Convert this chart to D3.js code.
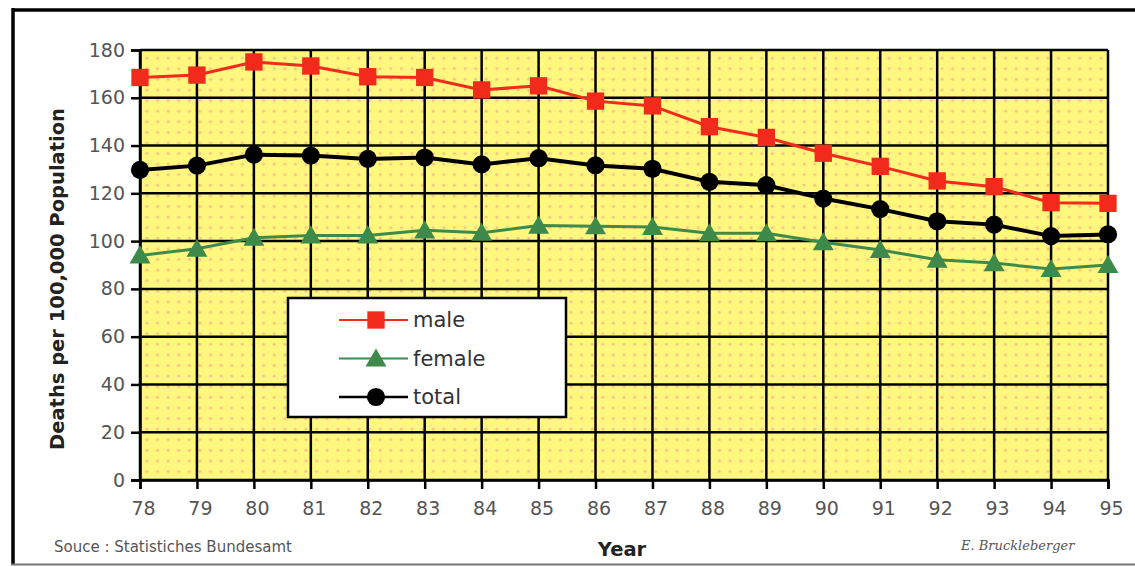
<!DOCTYPE html>
<html>
<head>
<meta charset="utf-8">
<script src="https://cdn.jsdelivr.net/npm/d3@7"></script>
<style>
  body { margin: 0; background: #fff; }
  svg { display: block; }
</style>
</head>
<body>
<svg id="chart" width="1135" height="567"></svg>
<script>
// data
var years = ["78", "79", "80", "81", "82", "83", "84", "85", "86", "87", "88", "89", "90", "91", "92", "93", "94", "95"];
var male = [168.5, 169.5, 175, 173.3, 168.8, 168.5, 163.3, 165, 158.6, 156.6, 147.9, 143.4, 136.8, 131.3, 125.2, 122.8, 116.1, 115.8];
var female = [94, 96.8, 101.4, 102.4, 102.4, 104.5, 103.5, 106.5, 106.2, 105.9, 103.3, 103.3, 99.5, 96.3, 92.2, 90.8, 88.3, 90];
var total = [129.8, 131.6, 136.2, 135.8, 134.4, 135, 132.1, 134.7, 131.7, 130.3, 124.8, 123.4, 117.8, 113.4, 108.3, 106.9, 102.1, 102.8];
var yTicks = [0, 20, 40, 60, 80, 100, 120, 140, 160, 180];

var series = [
  { name: "male", values: male, color: "#f22a1c", width: 3, marker: "square" },
  { name: "female", values: female, color: "#3d8a4a", width: 3, marker: "triangle" },
  { name: "total", values: total, color: "#000", width: 4, marker: "circle" }
];

var svg = d3.select("#chart");
// plot box (window.top is read-only, so no plain "top")
var plotLeft = 140, plotRight = 1108, plotTop = 50, plotBottom = 480;

var x = d3.scalePoint().domain(years).range([plotLeft, plotRight]);
var y = d3.scaleLinear().domain([0, 180]).range([plotBottom, plotTop]);

// outer frame
svg.append("line").attr("x1", 13).attr("x2", 1135).attr("y1", 10).attr("y2", 10)
   .attr("stroke", "#000").attr("stroke-width", 3.5);
svg.append("line").attr("x1", 13).attr("x2", 13).attr("y1", 8).attr("y2", 565)
   .attr("stroke", "#000").attr("stroke-width", 3.5);
svg.append("line").attr("x1", 11).attr("x2", 1135).attr("y1", 564.5).attr("y2", 564.5)
   .attr("stroke", "#777").attr("stroke-width", 2);

// dotted yellow background
var defs = svg.append("defs");
var pat = defs.append("pattern").attr("id", "dots")
  .attr("patternUnits", "userSpaceOnUse")
  .attr("x", plotLeft + 2).attr("y", plotTop + 3)
  .attr("width", 10.6).attr("height", 10.6);
pat.append("rect").attr("width", 10.6).attr("height", 10.6).attr("fill", "#fff77e");
pat.append("circle").attr("cx", 5).attr("cy", 5).attr("r", 1.5).attr("fill", "#f7c487");

svg.append("rect")
  .attr("x", plotLeft).attr("y", plotTop)
  .attr("width", plotRight - plotLeft).attr("height", plotBottom - plotTop)
  .attr("fill", "url(#dots)");

// grid lines
svg.append("g").selectAll("line").data(yTicks).join("line")
  .attr("x1", plotLeft).attr("x2", plotRight)
  .attr("y1", function(d){ return y(d); }).attr("y2", function(d){ return y(d); })
  .attr("stroke", "#000").attr("stroke-width", 2.5);
svg.append("g").selectAll("line").data(years).join("line")
  .attr("x1", function(d){ return x(d); }).attr("x2", function(d){ return x(d); })
  .attr("y1", plotTop).attr("y2", plotBottom)
  .attr("stroke", "#000").attr("stroke-width", 2.5);

// axes
var yAxis = svg.append("g")
  .attr("transform", "translate(" + plotLeft + ",0)")
  .call(d3.axisLeft(y).tickValues(yTicks).tickSize(9).tickPadding(6));
var xAxis = svg.append("g")
  .attr("transform", "translate(0," + plotBottom + ")")
  .call(d3.axisBottom(x).tickSize(9).tickPadding(13));

[yAxis, xAxis].forEach(function(a){
  a.select(".domain").attr("stroke", "#000").attr("stroke-width", 2.5);
  a.selectAll(".tick line").attr("stroke", "#000").attr("stroke-width", 2.5);
  a.selectAll(".tick text")
    .attr("fill", "#555")
    .style("font-family", "DejaVu Sans")
    .style("font-size", "19px");
});
xAxis.selectAll(".tick text").attr("dx", 3);

// series
var line = d3.line()
  .x(function(d, i){ return x(years[i]); })
  .y(function(d){ return y(d); });

function markerPath(kind, size) {
  var t = kind === "square" ? d3.symbolSquare : kind === "triangle" ? d3.symbolTriangle : d3.symbolCircle;
  return d3.symbol().type(t).size(size)();
}
var markerSize = { square: 300, triangle: 190, circle: 260 };

series.forEach(function(s){
  var g = svg.append("g");
  g.append("path")
    .datum(s.values)
    .attr("d", line)
    .attr("fill", "none")
    .attr("stroke", s.color)
    .attr("stroke-width", s.width);
  g.selectAll("path.mk").data(s.values).join("path")
    .attr("class", "mk")
    .attr("d", markerPath(s.marker, markerSize[s.marker]))
    .attr("transform", function(d, i){
      var dy = s.marker === "triangle" ? 2 : 0;
      return "translate(" + x(years[i]) + "," + (y(d) + dy) + ")";
    })
    .attr("fill", s.color);
});

// legend
var legend = svg.append("g");
legend.append("rect")
  .attr("x", 288).attr("y", 298).attr("width", 278).attr("height", 119)
  .attr("fill", "#fff").attr("stroke", "#000").attr("stroke-width", 2.5);
var rows = legend.selectAll("g.row").data(series).join("g")
  .attr("class", "row")
  .attr("transform", function(d, i){ return "translate(0," + (320 + i * 38.5) + ")"; });
rows.append("line")
  .attr("x1", 339).attr("x2", 408).attr("y1", 0).attr("y2", 0)
  .attr("stroke", function(d){ return d.color; })
  .attr("stroke-width", function(d){ return d.marker === "circle" ? 2.5 : 2; });
rows.append("path")
  .attr("d", function(d){ return markerPath(d.marker, markerSize[d.marker]); })
  .attr("transform", function(d){ return "translate(376," + (d.marker === "triangle" ? 2 : 0) + ")"; })
  .attr("fill", function(d){ return d.color; });
rows.append("text")
  .attr("x", 413).attr("y", 7)
  .attr("fill", "#333")
  .style("font-family", "DejaVu Sans")
  .style("font-size", "21px")
  .text(function(d){ return d.name; });

// axis titles
svg.append("text")
  .attr("transform", "translate(64,279) rotate(-90)")
  .attr("text-anchor", "middle")
  .attr("fill", "#222")
  .style("font-family", "DejaVu Sans")
  .style("font-weight", "bold")
  .style("font-size", "19.5px")
  .text("Deaths per 100,000 Population");

svg.append("text")
  .attr("x", 622).attr("y", 556)
  .attr("text-anchor", "middle")
  .attr("fill", "#222")
  .style("font-family", "DejaVu Sans")
  .style("font-weight", "bold")
  .style("font-size", "19.5px")
  .text("Year");

svg.append("text")
  .attr("x", 54).attr("y", 552)
  .attr("fill", "#555")
  .style("font-family", "DejaVu Sans")
  .style("font-size", "15px")
  .text("Souce : Statistiches Bundesamt");

svg.append("text")
  .attr("x", 961).attr("y", 550)
  .attr("fill", "#555")
  .style("font-family", "DejaVu Serif")
  .style("font-style", "italic")
  .style("font-size", "13px")
  .text("E. Bruckleberger");
</script>
</body>
</html>
